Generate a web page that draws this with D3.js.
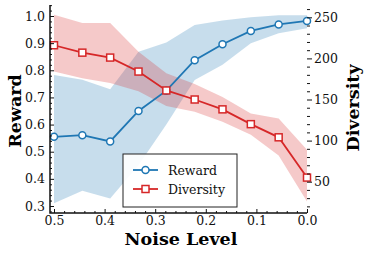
<!DOCTYPE html>
<html>
<head>
<meta charset="utf-8">
<script src="https://cdn.jsdelivr.net/npm/d3@7"></script>
<style>
  body { margin: 0; background: #fff; }
  text { font-family: "DejaVu Serif", serif; }
</style>
</head>
<body>
<div id="chart"></div>
<script>
// Data
var noise = [0.5, 0.444, 0.389, 0.333, 0.278, 0.222, 0.167, 0.111, 0.056, 0.0];
var reward = [0.555, 0.561, 0.538, 0.650, 0.725, 0.837, 0.896, 0.945, 0.969, 0.982];
var rewardHigh = [0.783, 0.765, 0.73, 0.868, 0.902, 0.967, 0.983, 0.995, 1.003, 1.003];
var rewardLow = [0.31, 0.356, 0.328, 0.45, 0.60, 0.764, 0.82, 0.90, 0.936, 0.955];
var diversity = [216, 207, 201, 184, 161, 150, 138, 120, 104, 55];
var diversityHigh = [253, 243, 243, 208, 182, 169, 153, 133, 127, 89];
var diversityLow = [184, 176, 170, 160, 142, 135, 123, 107, 82, 26];
var xTicks = [0.5, 0.4, 0.3, 0.2, 0.1, 0.0];
var leftTicks = [0.3, 0.4, 0.5, 0.6, 0.7, 0.8, 0.9, 1.0];
var rightTicks = [50, 100, 150, 200, 250];

var blue = "#1f77b4";
var red = "#d62728";

var svg = d3.select("#chart")
  .append("svg")
  .attr("width", 365)
  .attr("height", 254);

// Scales
// ==============================
var xScale = d3.scaleLinear().domain([0.5, 0]).range([54, 307]);
var yLeft = d3.scaleLinear().domain([1.0, 0.3]).range([16, 206]);
var yRight = d3.scaleLinear().domain([250, 50]).range([17.3, 181.7]);

var axisTop = 5, axisBottom = 213, axisLeft = 50, axisRight = 307;

var idx = d3.range(noise.length);

// Bands
// ==============================
var rewardArea = d3.area()
  .x(i => xScale(noise[i]))
  .y0(i => yLeft(rewardLow[i]))
  .y1(i => yLeft(rewardHigh[i]));

var diversityArea = d3.area()
  .x(i => xScale(noise[i]))
  .y0(i => yRight(diversityLow[i]))
  .y1(i => yRight(diversityHigh[i]));

svg.append("path")
  .attr("d", rewardArea(idx))
  .attr("fill", blue)
  .attr("fill-opacity", 0.25);

svg.append("path")
  .attr("d", diversityArea(idx))
  .attr("fill", red)
  .attr("fill-opacity", 0.25);

// Lines and markers
// ==============================
var rewardLine = d3.line().x(i => xScale(noise[i])).y(i => yLeft(reward[i]));
var diversityLine = d3.line().x(i => xScale(noise[i])).y(i => yRight(diversity[i]));

svg.append("path")
  .attr("d", rewardLine(idx))
  .attr("fill", "none")
  .attr("stroke", blue)
  .attr("stroke-width", 1.8);

svg.selectAll(".rdot")
  .data(idx)
  .enter()
  .append("circle")
  .attr("cx", i => xScale(noise[i]))
  .attr("cy", i => yLeft(reward[i]))
  .attr("r", 3.5)
  .attr("fill", "white")
  .attr("stroke", blue)
  .attr("stroke-width", 1.5);

svg.append("path")
  .attr("d", diversityLine(idx))
  .attr("fill", "none")
  .attr("stroke", red)
  .attr("stroke-width", 1.8);

svg.selectAll(".dsq")
  .data(idx)
  .enter()
  .append("rect")
  .attr("x", i => xScale(noise[i]) - 3.5)
  .attr("y", i => yRight(diversity[i]) - 3.5)
  .attr("width", 7)
  .attr("height", 7)
  .attr("fill", "white")
  .attr("stroke", red)
  .attr("stroke-width", 1.5);

// Axes (ticks point inward on left and bottom)
// ==============================
var xMinor = d3.range(0, 26).map(k => k * 0.02).filter(v => xTicks.every(t => Math.abs(t - v) > 1e-6));
var leftMinor = d3.range(14, 53).map(k => k * 0.02).filter(v => leftTicks.every(t => Math.abs(t - v) > 1e-6));
var rightMinor = d3.range(2, 27).map(k => k * 10).filter(v => rightTicks.indexOf(v) < 0);

var bottomAxisG = svg.append("g")
  .attr("transform", `translate(0, ${axisBottom})`)
  .call(d3.axisBottom(xScale).tickValues(xTicks).tickSize(-4).tickPadding(3).tickFormat(d3.format(".1f")));
bottomAxisG.select(".domain").remove();
bottomAxisG.append("g")
  .call(d3.axisBottom(xScale).tickValues(xMinor).tickSize(-2).tickFormat(""))
  .select(".domain").remove();

var leftAxisG = svg.append("g")
  .attr("transform", `translate(${axisLeft}, 0)`)
  .call(d3.axisLeft(yLeft).tickValues(leftTicks).tickSize(-4).tickPadding(5).tickFormat(d3.format(".1f")));
leftAxisG.select(".domain").remove();
leftAxisG.append("g")
  .call(d3.axisLeft(yLeft).tickValues(leftMinor).tickSize(-2).tickFormat(""))
  .select(".domain").remove();

var rightAxisG = svg.append("g")
  .attr("transform", `translate(${axisRight}, 0)`)
  .call(d3.axisRight(yRight).tickValues(rightTicks).tickSize(5).tickPadding(2));
rightAxisG.select(".domain").remove();
rightAxisG.append("g")
  .call(d3.axisRight(yRight).tickValues(rightMinor).tickSize(3).tickFormat(""))
  .select(".domain").remove();

svg.selectAll(".tick text")
  .attr("font-size", "12.5px")
  .attr("font-family", "DejaVu Serif")
  .attr("fill", "#111");
svg.selectAll(".tick line").attr("stroke", "#111");

// spines
svg.append("path")
  .attr("d", `M${axisLeft},${axisTop}V${axisBottom}H${axisRight}`)
  .attr("fill", "none")
  .attr("stroke", "#111")
  .attr("stroke-width", 1.5);

// Axis labels
// ==============================
svg.append("text")
  .attr("transform", `translate(20.5, 111) rotate(-90)`)
  .attr("text-anchor", "middle")
  .attr("font-size", "17.5px")
  .attr("font-weight", "bold")
  .text("Reward");

svg.append("text")
  .attr("transform", `translate(359, 108) rotate(-90)`)
  .attr("text-anchor", "middle")
  .attr("font-size", "17.5px")
  .attr("font-weight", "bold")
  .text("Diversity");

svg.append("text")
  .attr("x", 181)
  .attr("y", 245)
  .attr("text-anchor", "middle")
  .attr("font-size", "17.5px")
  .attr("font-weight", "bold")
  .text("Noise Level");

// Legend
// ==============================
var legend = svg.append("g");
legend.append("rect")
  .attr("x", 123)
  .attr("y", 154)
  .attr("width", 114)
  .attr("height", 53)
  .attr("fill", "white")
  .attr("fill-opacity", 0.9)
  .attr("stroke", "#222")
  .attr("stroke-width", 1);

var legendItems = [
  { name: "Reward", color: blue, shape: "circle", y: 170 },
  { name: "Diversity", color: red, shape: "square", y: 189 }
];
legendItems.forEach(function(d) {
  legend.append("line")
    .attr("x1", 133).attr("x2", 158)
    .attr("y1", d.y).attr("y2", d.y)
    .attr("stroke", d.color)
    .attr("stroke-width", 1.8);
  if (d.shape == "circle") {
    legend.append("circle")
      .attr("cx", 145.5).attr("cy", d.y).attr("r", 3.5)
      .attr("fill", "white").attr("stroke", d.color).attr("stroke-width", 1.5);
  } else {
    legend.append("rect")
      .attr("x", 142).attr("y", d.y - 3.5).attr("width", 7).attr("height", 7)
      .attr("fill", "white").attr("stroke", d.color).attr("stroke-width", 1.5);
  }
  legend.append("text")
    .attr("x", 168)
    .attr("y", d.y + 4.5)
    .attr("font-size", "12.5px")
    .attr("fill", "#111")
    .text(d.name);
});
</script>
</body>
</html>
